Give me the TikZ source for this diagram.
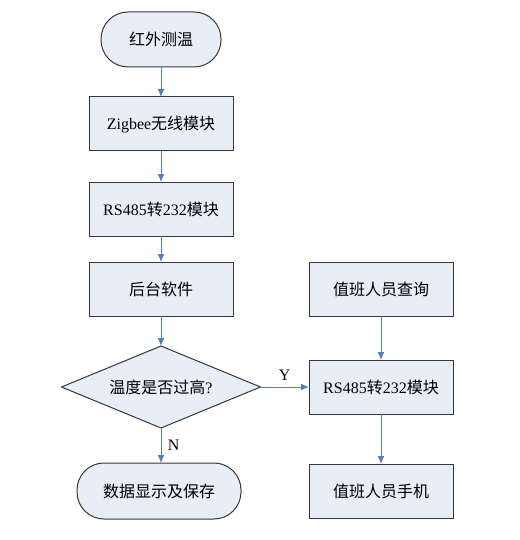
\documentclass[tikz,border=0pt]{standalone}
\usepackage{fontspec}
\setmainfont{Liberation Serif}
\newfontfamily\cjk{Noto Sans CJK SC}
\usetikzlibrary{positioning,shapes.geometric,arrows.meta}
\definecolor{boxfill}{RGB}{232,238,247}
\definecolor{linkblue}{RGB}{79,129,189}
\definecolor{edgegray}{RGB}{55,55,55}

\begin{document}
\begin{tikzpicture}[x=1pt, y=1pt, line join=round, node distance=30pt,
    font=\fontsize{16}{18}\selectfont,
    proc/.style={draw=edgegray, fill=boxfill, line width=1pt, outer sep=0pt, minimum width=144pt, minimum height=54pt, inner sep=0pt},
    term/.style={proc, rounded corners=27pt, minimum height=55pt},
    decide/.style={diamond, aspect=2.43, draw=edgegray, fill=boxfill, line width=1pt, outer sep=0pt, minimum width=199pt, minimum height=82pt, inner sep=0pt},
    flow/.style={draw=linkblue, line width=1pt, -{Latex[length=8pt, width=7pt]}}]
  \useasboundingbox (0,0) rectangle (519,-540);

  \node[term, minimum width=120pt] (start) at (161,-39.5) {\cjk 红外测温};
  \node[proc] (zig) [below=30pt of start] {Zigbee{\cjk 无线模块}};
  \node[proc] (rsa) [below=31pt of zig] {RS485{\cjk 转}232{\cjk 模块}};
  \node[proc] (host) [below=26pt of rsa] {\cjk 后台软件};
  \node[decide] (check) [below=30pt of host] {{\cjk 温度是否过高}?};
  \node[term, minimum width=164pt, minimum height=56pt] (save) [below=35pt of check, xshift=-2pt] {\cjk 数据显示及保存};

  \node[proc] (query) [right=76pt of host] {\cjk 值班人员查询};
  \node[proc] (rsb) [below=44pt of query] {RS485{\cjk 转}232{\cjk 模块}};
  \node[proc] (phone) [below=50pt of rsb] {\cjk 值班人员手机};

  \draw[flow] (start) -- (zig);
  \draw[flow] (zig) -- (rsa);
  \draw[flow] (rsa) -- (host);
  \draw[flow] (host) -- (check);
  \draw[flow] (check.south) -- (check.south |- save.north) node[midway, right, xshift=3pt] {N};
  \draw[flow] (check.east) -- (rsb.west) node[midway, above, yshift=3pt] {Y};
  \draw[flow] (query) -- (rsb);
  \draw[flow] (rsb) -- (phone);
\end{tikzpicture}
\end{document}
